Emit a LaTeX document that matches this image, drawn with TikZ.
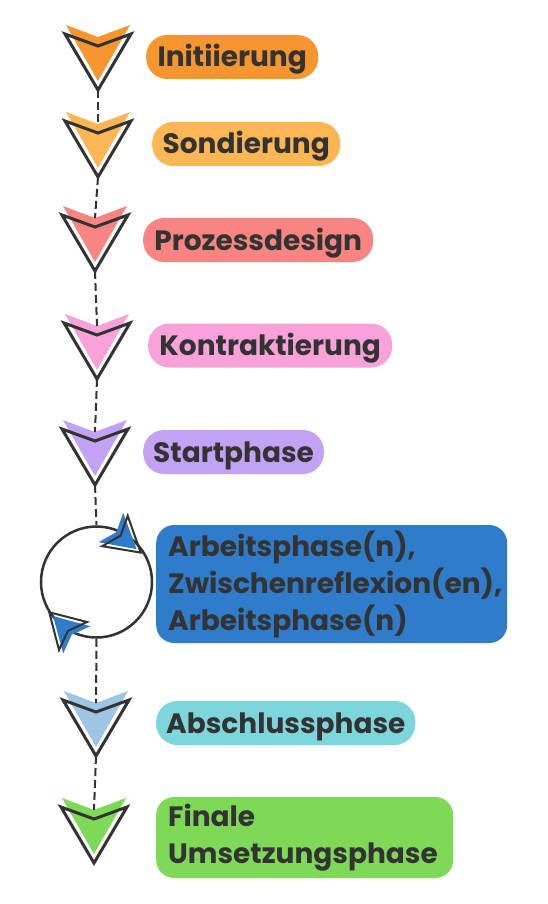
\documentclass[tikz,border=0pt]{standalone}
\usepackage{fontspec}
\setmainfont{Poppins}
\definecolor{ink}{HTML}{333333}
\definecolor{initorange}{HTML}{F7962F}
\definecolor{sondorange}{HTML}{FCB653}
\definecolor{prozred}{HTML}{F88582}
\definecolor{kontrpink}{HTML}{F9A1D9}
\definecolor{startlila}{HTML}{C2A2F5}
\definecolor{arbblue}{HTML}{2F7CCB}
\definecolor{abschlcyan}{HTML}{7DD6DB}
\definecolor{abschlblue}{HTML}{9EC5E2}
\definecolor{finalgreen}{HTML}{7ED957}
\tikzset{
  phase/.style={fill=#1, text=ink, font=\bfseries\fontsize{28}{37}\selectfont,
    rounded corners=21pt, minimum height=44pt, inner xsep=10pt, inner ysep=0pt,
    text height=20pt, text depth=0pt, anchor=west},
  phasebox/.style={phase=#1, text height={}, text depth={}, rounded corners=18pt,
    align=left, inner xsep=12pt},
  link/.style={draw=ink, line width=2pt, dash pattern=on 8pt off 4pt},
  chevronline/.style={draw=ink, line width=3pt, line join=miter},
}
% chevron: [scope options] name, position, fill
\newcommand\chevron[4][]{%
  \begin{scope}[shift={#3},#1]
    \fill[#4] (-32,-9) -- (0,3) -- (32,-9) -- (0,47) -- cycle;
    \draw[chevronline] (-33,0) -- (0,12) -- (33,0) -- (0,56) -- cycle;
    \coordinate (#2 top) at (0,3);
    \coordinate (#2 tip) at (0,56);
  \end{scope}}
\begin{document}
\begin{tikzpicture}[x=1pt,y=-1pt]
  \path[use as bounding box, fill=white] (0,0) rectangle (547,904);

  \chevron{init}{(98,34)}{initorange}
  \chevron{sond}{(98,121)}{sondorange}
  \chevron{proz}{(95,215)}{prozred}
  \chevron{kontr}{(97,323)}{kontrpink}
  \chevron{start}{(95,429)}{startlila}
  \chevron{abschl}{(96,700)}{abschlblue}
  \chevron{final}{(94,807)}{finalgreen}

  \node[circle, draw=ink, line width=2.5pt, minimum size=111pt, inner sep=0pt] (loop) at (96.5,582) {};
  \chevron[rotate=50, scale=0.6, chevronline/.append style={line width=2pt}]{loopa}{(115,531)}{arbblue}
  \chevron[rotate=225, scale=0.6, chevronline/.append style={line width=2pt}]{loopb}{(73,636)}{arbblue}

  \draw[link] (init tip) -- (sond top);
  \draw[link] (sond tip) -- (proz top);
  \draw[link] (proz tip) -- (kontr top);
  \draw[link] (kontr tip) -- (start top);
  \draw[link] (start tip) -- (loop.north);
  \draw[link] (loop.south) -- (abschl top);
  \draw[link] (abschl tip) -- (final top);

  \node[phase=initorange, minimum width=172pt] (initlabel) at (146,57) {Initiierung};
  \node[phase=sondorange, minimum width=188pt] (sondlabel) at (152,144) {Sondierung};
  \node[phase=prozred, minimum width=230pt] (prozlabel) at (143,240) {Prozessdesign};
  \node[phase=kontrpink, minimum width=244pt] (kontrlabel) at (148,345.5) {Kontraktierung};
  \node[phase=startlila, minimum width=177pt] (startlabel) at (143,452) {Startphase};
  \node[phasebox=arbblue, text width=327pt, minimum height=118pt] (arblabel) at (156,584)
    {Arbeitsphase(n),\\Zwischenreflexion(en),\\Arbeitsphase(n)};
  \node[phase=abschlcyan, minimum width=255pt] (abschllabel) at (156,723) {Abschlussphase};
  \node[phasebox=finalgreen, text width=273pt, minimum height=81pt] (finallabel) at (156,837.5)
    {Finale\\Umsetzungsphase};
\end{tikzpicture}
\end{document}
